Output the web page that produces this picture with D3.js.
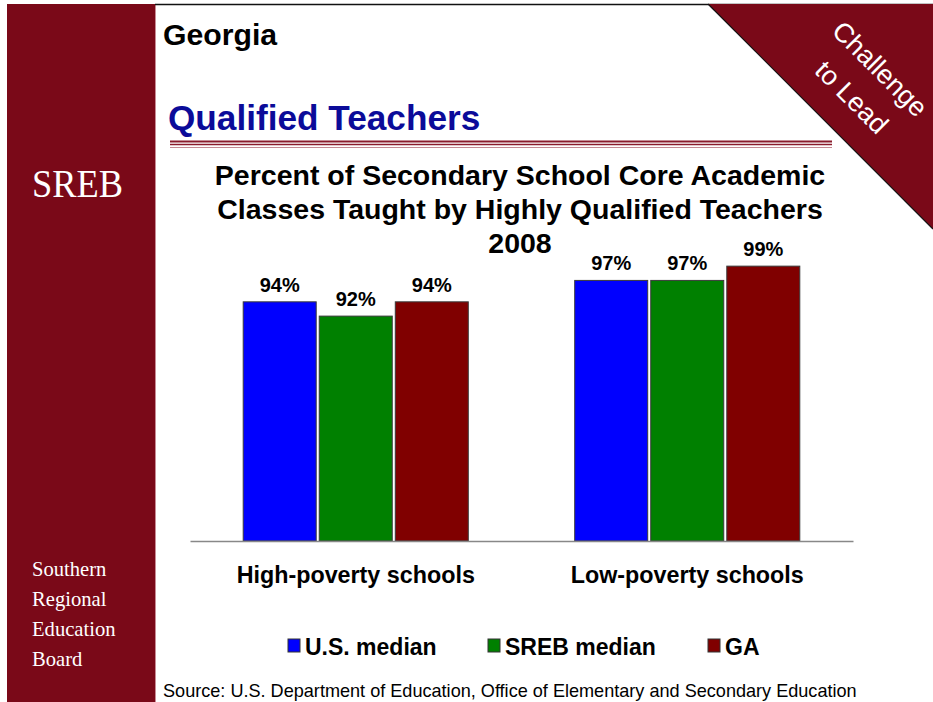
<!DOCTYPE html>
<html>
<head>
<meta charset="utf-8">
<script src="https://cdn.jsdelivr.net/npm/d3@7"></script>
<style>
  html, body { margin: 0; padding: 0; background: #ffffff; }
  svg { display: block; }
</style>
</head>
<body>
<svg id="chart" width="933" height="702"></svg>
<script>
// Share of secondary core academic classes taught by highly qualified teachers, 2008
const categories = ["High-poverty schools", "Low-poverty schools"];
const seriesNames = ["U.S. median", "SREB median", "GA"];
const usMedian = [94, 97];
const srebMedian = [92, 97];
const gaValues = [94, 99];
const seriesValues = [usMedian, srebMedian, gaValues];
const seriesColors = ["#0000ff", "#008000", "#800000"];
const titleLines = [
  "Percent of Secondary School Core Academic",
  "Classes Taught by Highly Qualified Teachers",
  "2008"
];
const sidebarLines = ["Southern", "Regional", "Education", "Board"];

const maroon = "#7a0918";
const sans = "'Liberation Sans', Arial, sans-serif";
const serif = "'Liberation Serif', 'Times New Roman', serif";

const svg = d3.select("#chart");

// ---- page frame ----
svg.append("rect").attr("x", 7).attr("y", 4).attr("width", 148).attr("height", 698).attr("fill", maroon);
svg.append("line").attr("x1", 155.5).attr("x2", 155.5).attr("y1", 4).attr("y2", 702)
  .attr("stroke", "#c98c95").attr("stroke-width", 1);
svg.append("line").attr("x1", 155).attr("x2", 933).attr("y1", 4.5).attr("y2", 4.5)
  .attr("stroke", "#111").attr("stroke-width", 1.5);

// corner banner
svg.append("path").attr("d", "M708,4 L933,4 L933,229 Z").attr("fill", maroon);
svg.append("line").attr("x1", 708).attr("y1", 4).attr("x2", 933).attr("y2", 229)
  .attr("stroke", "#111").attr("stroke-width", 1.2);
const banner = svg.append("g").attr("transform", "translate(865,84) rotate(45)");
banner.append("text").attr("x", 0).attr("y", -12).attr("text-anchor", "middle")
  .attr("font-family", sans).attr("font-size", 27).attr("fill", "#fff").text("Challenge");
banner.append("text").attr("x", 0).attr("y", 28).attr("text-anchor", "middle")
  .attr("font-family", sans).attr("font-size", 27).attr("fill", "#fff").text("to Lead");

// sidebar texts
svg.append("text").attr("x", 32).attr("y", 197).attr("font-family", serif)
  .attr("font-size", 41).attr("fill", "#fff").attr("textLength", 91)
  .attr("lengthAdjust", "spacingAndGlyphs").text("SREB");
svg.selectAll("text.side").data(sidebarLines).join("text").attr("class", "side")
  .attr("x", 32).attr("y", (d, i) => 576 + i * 30)
  .attr("font-family", serif).attr("font-size", 20.6).attr("fill", "#fff").text(d => d);

// headings
svg.append("text").attr("x", 163).attr("y", 45).attr("font-family", sans)
  .attr("font-weight", "bold").attr("font-size", 30.2).attr("fill", "#000").text("Georgia");
svg.append("text").attr("x", 168).attr("y", 130).attr("font-family", sans)
  .attr("font-weight", "bold").attr("font-size", 35.2).attr("fill", "#0b0b99").text("Qualified Teachers");

// triple rule under heading
svg.append("line").attr("x1", 170).attr("x2", 832).attr("y1", 141.5).attr("y2", 141.5)
  .attr("stroke", "#8a1c2c").attr("stroke-width", 2);
svg.append("line").attr("x1", 170).attr("x2", 832).attr("y1", 144.5).attr("y2", 144.5)
  .attr("stroke", "#8a1c2c").attr("stroke-width", 1.5);
svg.append("line").attr("x1", 170).attr("x2", 832).attr("y1", 147.5).attr("y2", 147.5)
  .attr("stroke", "#c48a93").attr("stroke-width", 1);

// chart title
svg.selectAll("text.title").data(titleLines).join("text").attr("class", "title")
  .attr("x", 520).attr("y", (d, i) => 185 + i * 34).attr("text-anchor", "middle")
  .attr("font-family", sans).attr("font-weight", "bold").attr("font-size", 28.5)
  .attr("fill", "#000").text(d => d);

// ---- bar chart ----
const x0 = d3.scaleBand().domain(categories).range([190, 853]).paddingInner(0).paddingOuter(0);
const groupWidth = x0.step() * 0.679;
const x1 = d3.scaleBand().domain(seriesNames).range([0, groupWidth]).paddingInner(0.04).paddingOuter(0);
const y = d3.scaleLinear().domain([60.5, 100]).range([541, 259]);

const groups = svg.selectAll("g.grp").data(categories).join("g").attr("class", "grp")
  .attr("transform", d => `translate(${x0(d) + (x0.bandwidth() - groupWidth) / 2},0)`);

groups.each(function (cat, ci) {
  const g = d3.select(this);
  const rows = seriesNames.map((s, si) => ({ s, v: seriesValues[si][ci], c: seriesColors[si] }));
  g.selectAll("rect").data(rows).join("rect")
    .attr("x", d => x1(d.s)).attr("y", d => y(d.v))
    .attr("width", x1.bandwidth()).attr("height", d => y.range()[0] - y(d.v))
    .attr("fill", d => d.c).attr("stroke", "#3a3a3a").attr("stroke-width", 1);
  g.selectAll("text").data(rows).join("text")
    .attr("x", d => x1(d.s) + x1.bandwidth() / 2).attr("y", d => y(d.v) - 10)
    .attr("text-anchor", "middle").attr("font-family", sans).attr("font-weight", "bold")
    .attr("font-size", 20).attr("fill", "#000").text(d => d.v + "%");
});

// baseline axis with category labels
const xAxis = svg.append("g").attr("transform", "translate(0,541)")
  .call(d3.axisBottom(x0).tickSize(0).tickPadding(0));
xAxis.select(".domain").attr("stroke", "#888").attr("stroke-width", 1.5);
xAxis.selectAll(".tick text").attr("dy", 0).attr("y", 42)
  .attr("font-family", sans).attr("font-weight", "bold").attr("font-size", 23.3).attr("fill", "#000");

// legend
const legendX = [288, 488, 708];
const legend = svg.selectAll("g.leg").data(seriesNames).join("g").attr("class", "leg")
  .attr("transform", (d, i) => `translate(${legendX[i]},0)`);
legend.append("rect").attr("x", 0).attr("y", 639).attr("width", 12).attr("height", 13)
  .attr("fill", (d, i) => seriesColors[i]).attr("stroke", "#333").attr("stroke-width", 1);
legend.append("text").attr("x", 17).attr("y", 655).attr("font-family", sans)
  .attr("font-weight", "bold").attr("font-size", 23).attr("fill", "#000").text(d => d);

// source note
svg.append("text").attr("x", 163).attr("y", 697).attr("font-family", sans)
  .attr("font-size", 18.1).attr("fill", "#000")
  .text("Source: U.S. Department of Education, Office of Elementary and Secondary Education");
</script>
</body>
</html>
